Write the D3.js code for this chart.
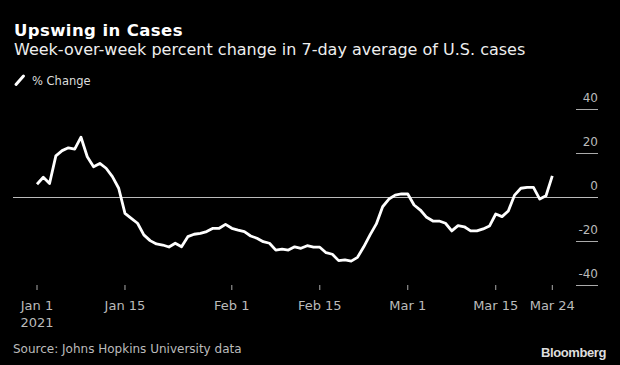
<!DOCTYPE html>
<html>
<head>
<meta charset="utf-8">
<script src="https://cdn.jsdelivr.net/npm/d3@7"></script>
<style>
  body { margin: 0; background: #000; }
  text { font-family: "DejaVu Sans", sans-serif; }
</style>
</head>
<body>
<svg id="chart"></svg>
<script>
// daily values, Jan 1 2021 .. Mar 24 2021
var startDate = "2021-01-01";
var pctChange = [
  6.0, 9.2, 6.4, 18.9, 21.3, 22.6, 22.0, 27.4, 18.5, 14.0,
  15.5, 13.3, 9.5, 4.2, -7.2, -9.5, -11.7, -17.0, -19.6, -21.1,
  -21.6, -22.5, -20.8, -22.4, -17.8, -16.7, -16.3, -15.5, -14.0, -14.0,
  -12.2, -14.0, -14.8, -15.5, -17.5, -18.5, -20.1, -20.8, -23.9, -23.5,
  -23.9, -22.4, -23.1, -21.9, -22.6, -22.6, -25.1, -25.8, -28.7, -28.4,
  -28.9, -27.2, -22.4, -17.0, -12.0, -4.2, -0.7, 1.1, 1.6, 1.6,
  -3.4, -5.7, -9.0, -10.7, -10.7, -11.7, -15.2, -12.8, -13.3, -15.2,
  -15.2, -14.3, -13.0, -7.5, -8.7, -6.1, 1.1, 4.2, 4.6, 4.6,
  -0.7, 0.8, 9.8
];
var xTickDates = ["2021-01-01", "2021-01-15", "2021-02-01", "2021-02-15", "2021-03-01", "2021-03-15", "2021-03-24"];
var xTickLabels = ["Jan 1", "Jan 15", "Feb 1", "Feb 15", "Mar 1", "Mar 15", "Mar 24"];
var yTicks = [40, 20, 0, -20, -40];

var W = 620, H = 365;
var parse = d3.utcParse("%Y-%m-%d");
var t0 = parse(startDate);
var data = pctChange.map(function(v, i) {
  return { date: d3.utcDay.offset(t0, i), value: v };
});

var svg = d3.select("#chart").attr("width", W).attr("height", H);
svg.append("rect").attr("width", W).attr("height", H).attr("fill", "#000");

var x = d3.scaleUtc()
  .domain([t0, d3.utcDay.offset(t0, pctChange.length - 1)])
  .range([37, 552.3]);
var y = d3.scaleLinear().domain([-40, 40]).range([285.5, 109.5]);

// titles
svg.append("text").attr("x", 14).attr("y", 36)
  .attr("fill", "#fff").attr("font-size", 16.5).attr("font-weight", "bold")
  .style("letter-spacing", "0.4px")
  .text("Upswing in Cases");
svg.append("text").attr("x", 14).attr("y", 55)
  .attr("fill", "#eee").attr("font-size", 16)
  .text("Week-over-week percent change in 7-day average of U.S. cases");

// legend
svg.append("line").attr("x1", 16).attr("y1", 84.5).attr("x2", 23.5).attr("y2", 76)
  .attr("stroke", "#fff").attr("stroke-width", 3).attr("stroke-linecap", "round");
svg.append("text").attr("x", 32).attr("y", 85)
  .attr("fill", "#ddd").attr("font-size", 11.5).text("% Change");

// y axis on the right
var yAxis = svg.append("g");
yAxis.selectAll(".ytick").data(yTicks).enter().append("line")
  .attr("x1", function(d) { return d === 0 ? 13 : 576; })
  .attr("x2", 598)
  .attr("y1", function(d) { return y(d); })
  .attr("y2", function(d) { return y(d); })
  .attr("stroke", function(d) { return d === 0 ? "#bbb" : "#aaa"; })
  .attr("stroke-width", 1);
yAxis.selectAll(".ylab").data(yTicks).enter().append("text")
  .attr("x", 598).attr("y", function(d) { return y(d) - 8; })
  .attr("text-anchor", "end").attr("fill", "#bbb").attr("font-size", 12)
  .text(function(d) { return d; });

// x axis
var xAxis = svg.append("g");
xAxis.selectAll("line").data(xTickDates).enter().append("line")
  .attr("x1", function(d) { return x(parse(d)); })
  .attr("x2", function(d) { return x(parse(d)); })
  .attr("y1", 285).attr("y2", 290)
  .attr("stroke", "#aaa").attr("stroke-width", 1);
xAxis.selectAll("text").data(xTickDates).enter().append("text")
  .attr("x", function(d) { return x(parse(d)); })
  .attr("y", 310).attr("text-anchor", "middle")
  .attr("fill", "#bbb").attr("font-size", 13)
  .text(function(d, i) { return xTickLabels[i]; });
svg.append("text").attr("x", x(parse(xTickDates[0]))).attr("y", 327)
  .attr("text-anchor", "middle").attr("fill", "#bbb").attr("font-size", 13)
  .text("2021");

// line
var line = d3.line()
  .x(function(d) { return x(d.date); })
  .y(function(d) { return y(d.value); });
svg.append("path").datum(data)
  .attr("fill", "none").attr("stroke", "#fff").attr("stroke-width", 2.8)
  .attr("stroke-linejoin", "round")
  .attr("d", line);

// footer
svg.append("text").attr("x", 13).attr("y", 353)
  .attr("fill", "#bbb").attr("font-size", 12)
  .text("Source: Johns Hopkins University data");
svg.append("text").attr("x", 606).attr("y", 357).attr("text-anchor", "end")
  .attr("fill", "#ddd").attr("font-size", 13).attr("font-weight", "bold")
  .style("font-family", "'Liberation Sans', Arial, sans-serif")
  .style("letter-spacing", "-0.4px")
  .text("Bloomberg");
</script>
</body>
</html>
